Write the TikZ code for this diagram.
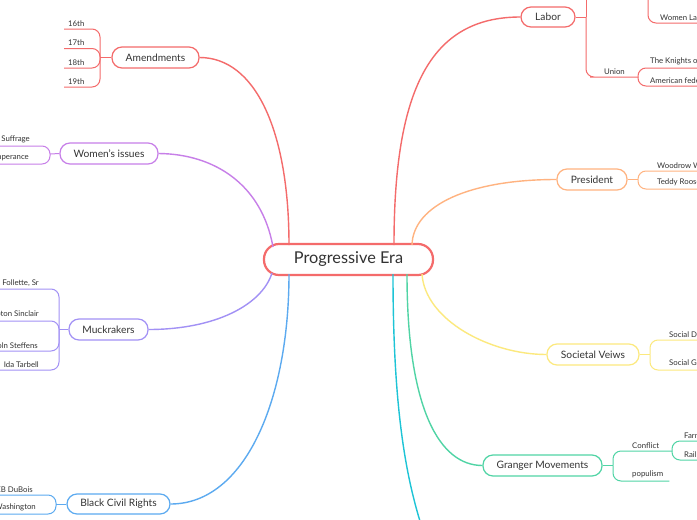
\documentclass[tikz,border=0pt]{standalone}
\usepackage{fontspec}
\setmainfont{Lato}
\definecolor{cred}{HTML}{F46B6B}
\definecolor{cwom}{HTML}{C77FE8}
\definecolor{cmuck}{HTML}{A291F5}
\definecolor{cblue}{HTML}{5CAAF0}
\definecolor{corange}{HTML}{FFB380}
\definecolor{cyellow}{HTML}{FCE97E}
\definecolor{cgreen}{HTML}{50D4A5}
\definecolor{ccyan}{HTML}{1DC4D6}
\definecolor{txt}{HTML}{333333}
\begin{document}
\begin{tikzpicture}[x=1pt,y=-1pt,
  text=txt,
  main/.style={draw=#1, fill=white, line width=1.2pt, rounded corners=10pt, minimum height=21pt, inner sep=0pt, font=\fontsize{10.2}{12}\selectfont},
  leaf/.style={inner xsep=4pt, inner ysep=2.5pt, font=\fontsize{7.8}{9}\selectfont},
  link/.style={draw=#1, line width=1.4pt},
  sub/.style={draw=#1, line width=1pt, rounded corners=8pt},
]
\fill[white] (0,0) rectangle (697,520);
\useasboundingbox (0,0) rectangle (697,520);

% ---------- main nodes ----------
\node[main=cred, line width=2.2pt, rounded corners=15pt, minimum width=169pt, minimum height=31pt, font=\fontsize{16.3}{19}\selectfont] (pe) at (348.5,259.5) {Progressive Era};
\node[main=cred, minimum width=87pt] (am) at (155.5,57.5) {Amendments};
\node[main=cwom, minimum width=98pt] (wi) at (109,153.5) {Women’s issues};
\node[main=cmuck, minimum width=79pt] (mu) at (108.5,329.5) {Muckrakers};
\node[main=cblue, minimum width=103pt, minimum height=20pt] (bc) at (118.5,504) {Black Civil Rights};
\node[main=cred, minimum width=54pt, minimum height=20pt] (la) at (548,17) {Labor};
\node[main=corange, minimum width=70pt] (pr) at (592,179.5) {President};
\node[main=cyellow, minimum width=92pt] (sv) at (593,354.5) {Societal Veiws};
\node[main=cgreen, minimum width=119pt] (gm) at (542.5,465.5) {Granger Movements};

% attachment points on the central node
\coordinate (pe-am) at (289,245);
\coordinate (pe-wi) at (273,247);
\coordinate (pe-mu) at (272,273);
\coordinate (pe-bc) at (289,274);
\coordinate (pe-la) at (394,245);
\coordinate (pe-pr) at (412,245);
\coordinate (pe-sv) at (422,274);
\coordinate (pe-gm) at (407,274);
\coordinate (pe-cy) at (393,274);
\coordinate (cy-end) at (428,545);

% ---------- main connectors ----------
\draw[link=cred] (am.east) .. controls (255,57.5) and (289,130) .. (pe-am);
\draw[link=cwom] (wi.east) .. controls (215,154) and (262,185) .. (pe-wi);
\draw[link=cmuck] (mu.east) .. controls (215,329.5) and (262,305) .. (pe-mu);
\draw[link=cblue] (bc.east) .. controls (245,504) and (289,400) .. (pe-bc);
\draw[link=cred] (pe-la) .. controls (394,90) and (430,17) .. (la.west);
\draw[link=corange] (pe-pr) .. controls (413,205) and (470,179.5) .. (pr.west);
\draw[link=cyellow] (pe-sv) .. controls (425,320) and (490,354.5) .. (sv.west);
\draw[link=cgreen] (pe-gm) .. controls (407,410) and (440,465.5) .. (gm.west);
\draw[link=ccyan] (pe-cy) .. controls (393,420) and (408,490) .. (cy-end);

% ---------- Amendments ----------
\coordinate (am-j) at (100,57.5);
\draw[sub=cred] (am.west) -- (am-j);
\node[leaf, anchor=south west] (a16) at (64,29) {16th};
\node[leaf, anchor=south west] (a17) at (64,48.5) {17th};
\node[leaf, anchor=south west] (a18) at (64,68) {18th};
\node[leaf, anchor=south west] (a19) at (64,87) {19th};
\foreach \n in {a16,a17,a18,a19} \draw[sub=cred] (am-j) |- (\n.south west);

% ---------- Women's issues ----------
\coordinate (wi-j) at (50,154);
\draw[sub=cwom] (wi.west) -- (wi-j);
\node[leaf, anchor=south east] (wsu) at (34,146) {Suffrage};
\node[leaf, anchor=south east] (wte) at (33,164) {Temperance};
\foreach \n in {wsu,wte} \draw[sub=cwom] (wi-j) |- (\n.south west);

% ---------- Muckrakers ----------
\coordinate (mu-j) at (59,329.5);
\draw[sub=cmuck] (mu.west) -- (mu-j);
\node[leaf, anchor=south east] (rlf) at (43,289) {Robert La Follette, Sr};
\node[leaf, anchor=south east] (ups) at (43,321) {Upton Sinclair};
\node[leaf, anchor=south east] (lst) at (42,351) {Lincoln Steffens};
\node[leaf, anchor=south east] (ita) at (43,370) {Ida Tarbell};
\foreach \n in {rlf,ups,lst,ita} \draw[sub=cmuck] (mu-j) |- (\n.south west);

% ---------- Black Civil Rights ----------
\coordinate (bc-j) at (56,504);
\draw[sub=cblue] (bc.west) -- (bc-j);
\node[leaf, anchor=south east] (web) at (37,495) {WEB DuBois};
\node[leaf, anchor=south east] (btw) at (40,514) {Booker T. Washington};
\foreach \n in {web,btw} \draw[sub=cblue] (bc-j) |- (\n.south west);

% ---------- Labor ----------
\coordinate (la-j) at (586,17);
\coordinate (la-up) at (586,-12);
\draw[sub=cred] (la.east) -- (la-j);
\draw[sub=cred] (la-j) -- (la-up);
\coordinate (wl-up) at (648,-12);
\node[leaf, anchor=south west] (wl) at (656,23) {Women Labor};
\draw[sub=cred] (wl-up) |- (wl.south east);
\node[leaf, anchor=south west, inner xsep=6pt] (un) at (598,77) {Union};
\coordinate (un-j) at (638,77);
\draw[sub=cred] (la-j) |- (un.south west) -- (un-j);
\node[leaf, anchor=south west] (kn) at (646,68) {The Knights of Labor};
\node[leaf, anchor=south west] (afl) at (646,86) {American federation of labor};
\foreach \n in {kn,afl} \draw[sub=cred] (un-j) |- (\n.south east);

% ---------- President ----------
\coordinate (pr-j) at (638,179.5);
\draw[sub=corange] (pr.east) -- (pr-j);
\node[leaf, anchor=south west] (ww) at (653,171) {Woodrow Wilson};
\node[leaf, anchor=south west] (tr) at (653,189) {Teddy Roosevelt};
\foreach \n in {ww,tr} \draw[sub=corange] (pr-j) |- (\n.south east);

% ---------- Societal Veiws ----------
\coordinate (sv-j) at (650,354.5);
\draw[sub=cyellow] (sv.east) -- (sv-j);
\node[leaf, anchor=south west] (sd) at (665,340) {Social Darwinism};
\node[leaf, anchor=south west] (sg) at (665,370) {Social Gospel};
\foreach \n in {sd,sg} \draw[sub=cyellow] (sv-j) |- (\n.south east);

% ---------- Granger Movements ----------
\coordinate (gm-j) at (613,465.5);
\draw[sub=cgreen] (gm.east) -- (gm-j);
\node[leaf, anchor=south west] (cf) at (628,451) {Conflict};
\coordinate (cf-j) at (672,451);
\draw[sub=cgreen] (gm-j) |- (cf.south west) -- (cf-j);
\node[leaf, anchor=south west, text width=33pt] (pop) at (628,481) {populism};
\draw[sub=cgreen] (gm-j) |- (pop.south east);
\node[leaf, anchor=south west] (fa) at (680,441) {Farmers};
\node[leaf, anchor=south west] (rr) at (680,460) {Railroads};
\foreach \n in {fa,rr} \draw[sub=cgreen] (cf-j) |- (\n.south east);
\end{tikzpicture}
\end{document}
